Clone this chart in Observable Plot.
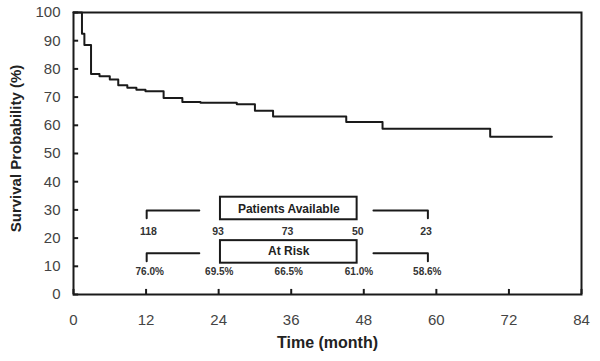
<!DOCTYPE html>
<html><head><meta charset="utf-8">
<script src="https://cdn.jsdelivr.net/npm/d3@7"></script>
<script src="https://cdn.jsdelivr.net/npm/@observablehq/plot@0.6"></script>
<style>html,body{margin:0;padding:0;background:#fff}svg{display:block}</style>
</head><body><div id="chart"></div>
<script>
// Kaplan-Meier step curve (time in months, survival in %)
const months   = [0, 1.4, 1.8, 2.9, 4.3, 6.0, 7.4, 8.9, 10.4, 11.9, 14.9, 18.0, 21.0, 27.0, 30.0, 33.0, 45.1, 51.1, 68.9, 79.1];
const survival = [100, 92.5, 88.5, 78.2, 77.4, 76.2, 74.2, 73.3, 72.6, 72.1, 69.7, 68.3, 68.0, 67.5, 65.2, 63.1, 61.2, 58.8, 55.9, 55.9];

const xTicks = [0, 12, 24, 36, 48, 60, 72, 84];
const yTicks = [0, 10, 20, 30, 40, 50, 60, 70, 80, 90, 100];

// annotation table
const tableMonths = [12, 24, 36, 48, 60];
const patientsAvailable = ["118", "93", "73", "50", "23"];
const atRisk = ["76.0%", "69.5%", "66.5%", "61.0%", "58.6%"];
const boxTitles = ["Patients Available", "At Risk"];

const curve = months.map((m, i) => ({month: m, surv: survival[i]}));
// small shift of table labels to match the reference layout
const shiftX = [0.4, -0.1, -0.6, -1.0, -1.7];
const availRows = tableMonths.map((m, i) => ({month: m + shiftX[i], label: patientsAvailable[i]}));
const riskRows = tableMonths.map((m, i) => ({month: m + shiftX[i] + 0.2, label: atRisk[i]}));

const font = "'Liberation Sans', Arial, sans-serif";
const ink = "#1a1a1a";

function bracket(yTop, yBot) {
  return [
    [{x: 12.1, y: yBot}, {x: 12.1, y: yTop}, {x: 20.8, y: yTop}],
    [{x: 49.6, y: yTop}, {x: 58.6, y: yTop}, {x: 58.6, y: yBot}]
  ];
}
const brackets = [...bracket(29.8, 27.0), ...bracket(14.6, 11.8)]
  .flatMap((seg, k) => seg.map(p => ({...p, k})));

const boxes = [
  {x1: 24.3, x2: 46.9, y1: 26.5, y2: 34.5, title: boxTitles[0], ym: 30.4},
  {x1: 24.3, x2: 46.9, y1: 11.1, y2: 19.1, title: boxTitles[1], ym: 15.2}
];

const chart = Plot.plot({
  width: 600,
  height: 361,
  marginLeft: 73,
  marginRight: 19,
  marginTop: 12,
  marginBottom: 67,
  style: {fontFamily: font, background: "#fff"},
  x: {domain: [0, 84]},
  y: {domain: [0, 100]},
  marks: [
    Plot.axisX({ticks: xTicks, tickSize: 0, tickPadding: 20, fontSize: 15, fill: "#444", label: null}),
    Plot.axisY({ticks: yTicks, tickSize: 0, tickPadding: 13, fontSize: 15, fill: "#444", label: null}),
    Plot.ruleX(xTicks, {x: d => d, y1: 0, y2: 1.8, stroke: ink, strokeWidth: 2}),
    Plot.ruleY(yTicks, {y: d => d, x1: 0, x2: 0.85, stroke: ink, strokeWidth: 2}),
    Plot.line(curve, {x: "month", y: "surv", curve: "step-after", stroke: ink, strokeWidth: 2}),
    Plot.line(brackets, {x: "x", y: "y", z: "k", stroke: ink, strokeWidth: 2}),
    Plot.rect(boxes, {x1: "x1", x2: "x2", y1: "y1", y2: "y2", fill: "white", stroke: ink, strokeWidth: 2}),
    Plot.text(boxes, {x: d => (d.x1 + d.x2) / 2, y: "ym", text: "title", fontSize: 12, fontWeight: "bold", fill: "#222"}),
    Plot.text(availRows, {x: "month", y: 22.4, text: "label", fontSize: 10.5, fontWeight: "bold", fill: "#333"}),
    Plot.text(riskRows, {x: "month", y: 7.9, text: "label", fontSize: 10, fontWeight: "bold", fill: "#333"}),
    Plot.frame({stroke: ink, strokeWidth: 2}),
    Plot.text(["Time (month)"], {frameAnchor: "bottom", dy: 53, fontSize: 16, fontWeight: "bold", fill: "#222"}),
    Plot.text(["Survival Probability (%)"], {frameAnchor: "left", textAnchor: "middle", dx: -57, dy: -5, rotate: -90, fontSize: 15, fontWeight: "bold", fill: "#222"})
  ]
});
document.getElementById("chart").appendChild(chart);
</script>
</body></html>
